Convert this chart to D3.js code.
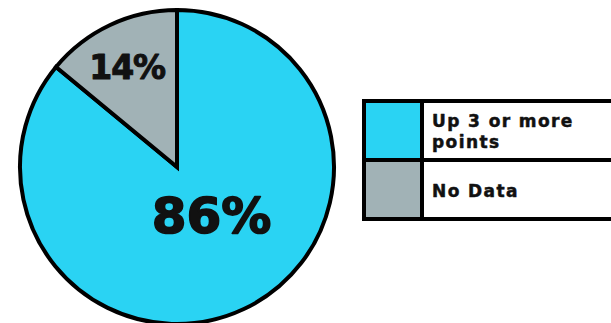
<!DOCTYPE html>
<html>
<head>
<meta charset="utf-8">
<script src="https://cdn.jsdelivr.net/npm/d3@7"></script>
<style>
  html, body { margin: 0; padding: 0; background: #fff; }
  svg { display: block; }
  text { font-family: "DejaVu Sans", "Lato", sans-serif; font-weight: bold; fill: #111; stroke: #111; stroke-linejoin: round; }
</style>
</head>
<body>
<svg id="chart" width="611" height="323"></svg>
<script>
// Share of responses by category
const categories = ["Up 3 or more points", "No Data"];
const legendLines = [["Up 3 or more", "points"], ["No Data"]];
const values = [86, 14];
const colors = ["#2ad3f3", "#a1b2b6"];

const svg = d3.select("#chart");
const cx = 177, cy = 167, R = 157;

const color = d3.scaleOrdinal().domain(categories).range(colors);

const pie = d3.pie().sort(null).value(d => d.value);
const arcs = pie(categories.map((c, i) => ({ name: c, value: values[i] })));

const arc = d3.arc().innerRadius(0).outerRadius(R);
const g = svg.append("g").attr("transform", `translate(${cx},${cy})`);

g.selectAll("path.slice")
  .data(arcs)
  .join("path")
  .attr("class", "slice")
  .attr("d", arc)
  .attr("fill", d => color(d.data.name))
  .attr("stroke", "#000")
  .attr("stroke-width", 4)
  .attr("stroke-linejoin", "miter");

// value labels, placed along each slice's mid-angle
const labelRadius = [60, 110];
const labelSize = [50, 33];
const labelShift = [[9, 12], [-3, 12]];
g.selectAll("text.val")
  .data(arcs)
  .join("text")
  .attr("class", "val")
  .attr("transform", (d, i) => {
    const [x, y] = d3.arc().innerRadius(labelRadius[i]).outerRadius(labelRadius[i]).centroid(d);
    return `translate(${x + labelShift[i][0]},${y + labelShift[i][1]})`;
  })
  .attr("text-anchor", "middle")
  .attr("font-size", (d, i) => labelSize[i])
  .attr("stroke-width", (d, i) => i === 0 ? 1.6 : 1)
  .attr("letter-spacing", (d, i) => i === 0 ? 0 : -1)
  .text(d => d.data.value + "%");

// legend table
const lx = 364, ly = 101, rowH = 59, swW = 58, boxW = 260;
const legend = svg.append("g").attr("transform", `translate(${lx},${ly})`);
const rows = legend.selectAll("g.row")
  .data(categories)
  .join("g")
  .attr("class", "row")
  .attr("transform", (d, i) => `translate(0,${i * rowH})`);

rows.append("rect")
  .attr("width", swW).attr("height", rowH)
  .attr("fill", d => color(d));
rows.append("rect")
  .attr("x", swW).attr("width", boxW - swW).attr("height", rowH)
  .attr("fill", "#fff");

legend.append("rect")
  .attr("width", boxW).attr("height", rowH * categories.length)
  .attr("fill", "none").attr("stroke", "#000").attr("stroke-width", 4);
legend.append("line")
  .attr("x1", swW).attr("x2", swW).attr("y1", 0).attr("y2", rowH * categories.length)
  .attr("stroke", "#000").attr("stroke-width", 4);
legend.append("line")
  .attr("x1", 0).attr("x2", boxW).attr("y1", rowH).attr("y2", rowH)
  .attr("stroke", "#000").attr("stroke-width", 4);

const lineH = 21;
rows.each(function (d, i) {
  const lines = legendLines[i];
  const t = d3.select(this).append("text")
    .attr("font-size", 17)
    .attr("stroke-width", 0.5)
    .attr("letter-spacing", 1.4);
  const y0 = rowH / 2 - (lines.length - 1) * lineH / 2 + 7;
  lines.forEach((s, k) => {
    t.append("tspan").attr("x", swW + 10).attr("y", y0 + k * lineH).text(s);
  });
});
</script>
</body>
</html>
